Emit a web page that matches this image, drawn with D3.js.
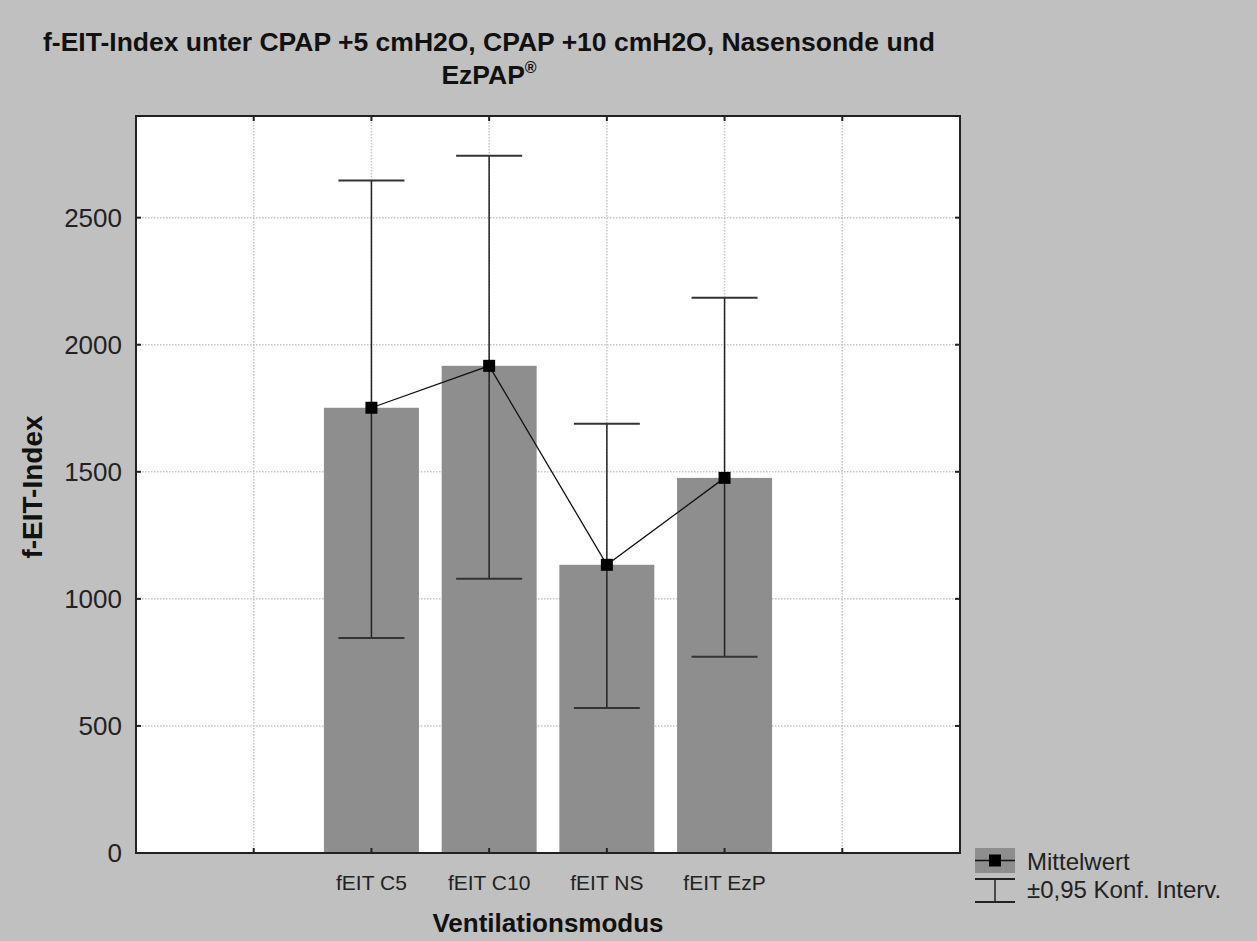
<!DOCTYPE html>
<html>
<head>
<meta charset="utf-8">
<script src="https://cdn.jsdelivr.net/npm/d3@7"></script>
<style>
  body { margin: 0; background: #c0c0c0; }
  svg { display: block; font-family: "Liberation Sans", Arial, sans-serif; }
</style>
</head>
<body>
<div id="chart"></div>
<script>
const categories = ['fEIT C5', 'fEIT C10', 'fEIT NS', 'fEIT EzP'];
const means = [1752, 1917, 1134, 1476];
const ciUpper = [2646, 2744, 1689, 2185];
const ciLower = [846, 1079, 571, 772];
const yTicks = [0, 500, 1000, 1500, 2000, 2500];

const W = 1257, H = 941;
const margin = { top: 116, right: 297, bottom: 88, left: 136 };
const width = W - margin.left - margin.right;
const height = H - margin.top - margin.bottom;

const svg = d3.select('#chart').append('svg')
  .attr('width', W).attr('height', H);

svg.append('rect').attr('width', W).attr('height', H).attr('fill', '#c0c0c0');

// x: 7 slots, categories sit at 2..5, grid at 1..6
const x = d3.scaleLinear().domain([0, 7]).range([0, width]);
const y = d3.scaleLinear().domain([0, 2900]).range([height, 0]);
const pos = (d, i) => x(i + 2);

const g = svg.append('g').attr('transform', `translate(${margin.left},${margin.top})`);

g.append('rect').attr('width', width).attr('height', height).attr('fill', '#fff');

// grid
const gridX = [1, 2, 3, 4, 5, 6];
g.selectAll('.gx').data(gridX).enter().append('line')
  .attr('x1', d => x(d)).attr('x2', d => x(d))
  .attr('y1', 0).attr('y2', height)
  .attr('stroke', '#c8c8c8').attr('stroke-width', 1.5).attr('stroke-dasharray', '1.5,1.5');
g.selectAll('.gy').data(yTicks.slice(1)).enter().append('line')
  .attr('x1', 0).attr('x2', width)
  .attr('y1', d => y(d)).attr('y2', d => y(d))
  .attr('stroke', '#c8c8c8').attr('stroke-width', 1.5).attr('stroke-dasharray', '1.5,1.5');

// bars
const barW = 95;
g.selectAll('.bar').data(means).enter().append('rect')
  .attr('x', (d, i) => pos(d, i) - barW / 2)
  .attr('y', d => y(d))
  .attr('width', barW)
  .attr('height', d => height - y(d))
  .attr('fill', '#8e8e8e');

// error bars
const capW = 66;
const eb = g.selectAll('.eb').data(means).enter().append('g');
eb.append('line')
  .attr('x1', pos).attr('x2', pos)
  .attr('y1', (d, i) => y(ciUpper[i])).attr('y2', (d, i) => y(ciLower[i]))
  .attr('stroke', '#222').attr('stroke-width', 1.5);
eb.append('line')
  .attr('x1', (d, i) => pos(d, i) - capW / 2).attr('x2', (d, i) => pos(d, i) + capW / 2)
  .attr('y1', (d, i) => y(ciUpper[i])).attr('y2', (d, i) => y(ciUpper[i]))
  .attr('stroke', '#333').attr('stroke-width', 2);
eb.append('line')
  .attr('x1', (d, i) => pos(d, i) - capW / 2).attr('x2', (d, i) => pos(d, i) + capW / 2)
  .attr('y1', (d, i) => y(ciLower[i])).attr('y2', (d, i) => y(ciLower[i]))
  .attr('stroke', '#333').attr('stroke-width', 2);

// mean line + markers
g.append('path')
  .datum(means)
  .attr('d', d3.line().x(pos).y(d => y(d)))
  .attr('fill', 'none').attr('stroke', '#111').attr('stroke-width', 1.3);
g.selectAll('.mk').data(means).enter().append('rect')
  .attr('x', (d, i) => pos(d, i) - 6).attr('y', d => y(d) - 6)
  .attr('width', 12).attr('height', 12).attr('fill', '#000');

// frame
g.append('rect').attr('width', width).attr('height', height)
  .attr('fill', 'none').attr('stroke', '#222').attr('stroke-width', 2);

// inward ticks
const tk = 5;
g.selectAll('.tb').data(gridX).enter().append('line')
  .attr('x1', d => x(d)).attr('x2', d => x(d)).attr('y1', height).attr('y2', height - tk)
  .attr('stroke', '#222').attr('stroke-width', 2);
g.selectAll('.tt').data(gridX).enter().append('line')
  .attr('x1', d => x(d)).attr('x2', d => x(d)).attr('y1', 0).attr('y2', tk)
  .attr('stroke', '#222').attr('stroke-width', 2);
g.selectAll('.tl').data(yTicks.slice(1)).enter().append('line')
  .attr('x1', 0).attr('x2', tk).attr('y1', d => y(d)).attr('y2', d => y(d))
  .attr('stroke', '#222').attr('stroke-width', 2);
g.selectAll('.tr').data(yTicks.slice(1)).enter().append('line')
  .attr('x1', width).attr('x2', width - tk).attr('y1', d => y(d)).attr('y2', d => y(d))
  .attr('stroke', '#222').attr('stroke-width', 2);

// y tick labels
g.selectAll('.yl').data(yTicks).enter().append('text')
  .attr('x', -14).attr('y', d => y(d)).attr('dy', '0.35em')
  .attr('text-anchor', 'end').attr('font-size', 26).attr('fill', '#222')
  .text(d => d);

// x tick labels
g.selectAll('.xl').data(categories).enter().append('text')
  .attr('x', (d, i) => pos(d, i)).attr('y', height + 37)
  .attr('text-anchor', 'middle').attr('font-size', 21).attr('fill', '#222')
  .text(d => d);

// axis titles
svg.append('text')
  .attr('x', 548).attr('y', 932)
  .attr('text-anchor', 'middle').attr('font-size', 26).attr('font-weight', 'bold').attr('fill', '#111')
  .text('Ventilationsmodus');
svg.append('text')
  .attr('transform', 'translate(42,487) rotate(-90)')
  .attr('text-anchor', 'middle').attr('font-size', 28).attr('font-weight', 'bold').attr('fill', '#111')
  .text('f-EIT-Index');

// title
const title = svg.append('text').attr('text-anchor', 'middle').attr('font-size', 26.5)
  .attr('font-weight', 'bold').attr('fill', '#111');
title.append('tspan').attr('x', 489).attr('y', 51)
  .text('f-EIT-Index unter CPAP +5 cmH2O, CPAP +10 cmH2O, Nasensonde und');
const t2 = title.append('tspan').attr('x', 489).attr('y', 84).text('EzPAP');
t2.append('tspan').attr('font-size', 16).attr('dy', -11).text('®');

// legend
const lg = svg.append('g').attr('transform', 'translate(975,848)');
lg.append('rect').attr('x', 0).attr('y', 0).attr('width', 40).attr('height', 25).attr('fill', '#8e8e8e');
lg.append('line').attr('x1', 0).attr('x2', 40).attr('y1', 12.5).attr('y2', 12.5)
  .attr('stroke', '#111').attr('stroke-width', 1.5);
lg.append('rect').attr('x', 14).attr('y', 6.5).attr('width', 12).attr('height', 12).attr('fill', '#000');
lg.append('text').attr('x', 52).attr('y', 14).attr('dy', '0.35em')
  .attr('font-size', 24).attr('fill', '#222').text('Mittelwert');
lg.append('line').attr('x1', 0).attr('x2', 40).attr('y1', 31).attr('y2', 31)
  .attr('stroke', '#222').attr('stroke-width', 2);
lg.append('line').attr('x1', 0).attr('x2', 40).attr('y1', 54).attr('y2', 54)
  .attr('stroke', '#222').attr('stroke-width', 2);
lg.append('line').attr('x1', 20).attr('x2', 20).attr('y1', 31).attr('y2', 54)
  .attr('stroke', '#222').attr('stroke-width', 1.5);
lg.append('text').attr('x', 52).attr('y', 42).attr('dy', '0.35em')
  .attr('font-size', 24).attr('fill', '#222').text('±0,95 Konf. Interv.');
</script>
</body>
</html>
